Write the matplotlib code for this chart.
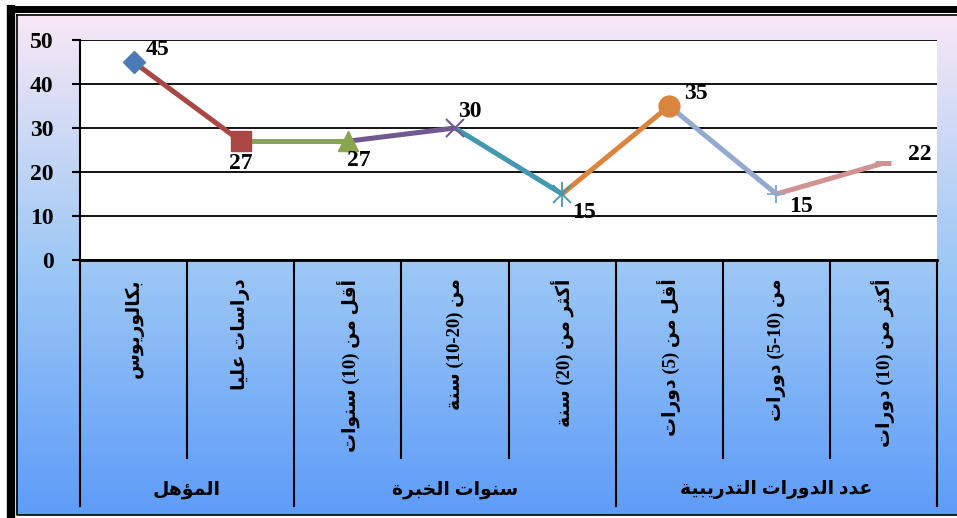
import re
import numpy as np
import matplotlib
matplotlib.use('Agg')
import matplotlib.pyplot as plt
import matplotlib.colors as mcl

# data
categories = ['بكالوريوس', 'دراسات عليا',
              'أقل من (10) سنوات', 'من (10-20) سنة', 'أكثر من (20) سنة',
              'أقل من (5) دورات', 'من (5-10) دورات', 'أكثر من (10) دورات']
values = [45, 27, 27, 30, 15, 35, 15, 22]
groups = ['المؤهل', 'سنوات الخبرة', 'عدد الدورات التدريبية']
group_sizes = [2, 3, 3]
yticks = [0, 10, 20, 30, 40, 50]

colors = ['#4A7BB7', '#AA4643', '#89A54E', '#71588F', '#4198AF',
          '#DB843D', '#93A9CF', '#D19392']
markers = ['D', 's', '^', 'x', 'star', 'o', '+', '_']
label_offsets = [(17, 9), (0, -16), (8, -14), (11, 12), (16, -13),
                 (19, 9), (18, -9), (26, 6)]

# --- minimal arabic shaping (presentation forms) + bidi reorder ---
DUAL = {'ب': 0xFE8F, 'ت': 0xFE95, 'ث': 0xFE99, 'ج': 0xFE9D, 'ح': 0xFEA1,
        'خ': 0xFEA5, 'س': 0xFEB1, 'ش': 0xFEB5, 'ص': 0xFEB9, 'ض': 0xFEBD,
        'ط': 0xFEC1, 'ظ': 0xFEC5, 'ع': 0xFEC9, 'غ': 0xFECD, 'ف': 0xFED1,
        'ق': 0xFED5, 'ك': 0xFED9, 'ل': 0xFEDD, 'م': 0xFEE1, 'ن': 0xFEE5,
        'ه': 0xFEE9, 'ي': 0xFEF1, 'ئ': 0xFE89}
RIGHT = {'ا': 0xFE8D, 'أ': 0xFE83, 'إ': 0xFE87, 'آ': 0xFE81, 'د': 0xFEA9,
         'ذ': 0xFEAB, 'ر': 0xFEAD, 'ز': 0xFEAF, 'و': 0xFEED, 'ؤ': 0xFE85,
         'ة': 0xFE93, 'ى': 0xFEEF}


def shape(s):
    out = []
    for i, c in enumerate(s):
        if c not in DUAL and c not in RIGHT:
            out.append(c)
            continue
        prev = s[i-1] if i > 0 else ''
        nxt = s[i+1] if i + 1 < len(s) else ''
        jp = prev in DUAL
        jn = c in DUAL and (nxt in DUAL or nxt in RIGHT)
        base = DUAL.get(c, RIGHT.get(c))
        out.append(chr(base + (1 if jp else 0) + (2 if jn else 0)))
    return ''.join(out)


def ar(s):
    parts = re.findall(r'[0-9]+(?:-[0-9]+)*|[^0-9]+', shape(s))
    out = []
    for p in reversed(parts):
        if p[0].isdigit():
            out.append(p)
        else:
            out.append(p[::-1].translate(str.maketrans('()', ')(')))
    return ''.join(out)


serif = 'Liberation Serif'
arfont = [serif, 'DejaVu Sans']

W, H = 957, 518
fig = plt.figure(figsize=(W/100, H/100), dpi=100)

# background frame (pixel coordinates)
bg = fig.add_axes([0, 0, 1, 1])
bg.set_xlim(0, W)
bg.set_ylim(H, 0)
bg.axis('off')
grad = mcl.LinearSegmentedColormap.from_list(
    'g', [(0, '#F8E8F6'), (0.5, '#9DC8F5'), (1, '#5E9CF8')])
bg.imshow(np.linspace(0, 1, 256)[:, None], cmap=grad, aspect='auto',
          extent=(16, W + 10, 515, 14), zorder=0)
bg.plot([7, W + 10], [8.5, 8.5], color='black', lw=5, solid_capstyle='butt')
bg.plot([11, 11], [5, H + 5], color='black', lw=6, solid_capstyle='butt')
bg.plot([17, W + 10, W + 10, 17, 17], [15, 15, 515, 515, 15], color='black', lw=1.2)

# plot area
ax = fig.add_axes([80/W, 1 - 260/H, (937 - 80)/W, 220/H])
ax.set_facecolor('white')
x = np.arange(len(values))
ax.set_xlim(-0.5, len(values) - 0.5)
ax.set_ylim(0, 50)
ax.set_yticks(yticks)
ax.set_yticklabels([str(t) for t in yticks], fontfamily=serif,
                   fontweight='bold', fontsize=17)
ax.tick_params(axis='y', direction='out', length=6, width=1.5, pad=13)
ax.tick_params(axis='x', length=0, labelbottom=False)
ax.grid(axis='y', color='black', lw=1.3)
ax.set_axisbelow(True)
for s in ['top', 'right']:
    ax.spines[s].set_visible(False)
ax.spines['left'].set_linewidth(1.5)
ax.spines['bottom'].set_linewidth(2)

# segments, each coloured like its end point
for i in range(1, len(values)):
    ax.plot(x[i-1:i+1], values[i-1:i+1], color=colors[i], lw=3.6,
            solid_capstyle='butt', zorder=3)

for i, (xi, v) in enumerate(zip(x, values)):
    m = markers[i]
    if m == 'star':
        ax.plot(xi, v, marker='x', ms=13, mew=1.3, color=colors[i], zorder=4)
        ax.plot(xi, v, marker='|', ms=18, mew=1.3, color=colors[i], zorder=4)
    elif m in ('x', '+'):
        ax.plot(xi, v, marker=m, ms=13, mew=1.5, color=colors[i], zorder=4)
    elif m == '_':
        ax.plot(xi, v, marker=m, ms=12, mew=3.6, color=colors[i], zorder=4)
    elif m == 'D':
        ax.plot(xi, v, marker=m, ms=11, color=colors[i], mec=colors[i], zorder=4)
    else:
        ax.plot(xi, v, marker=m, ms=15, color=colors[i], mec=colors[i], zorder=4)
    ax.annotate(str(v), (xi, v), xytext=label_offsets[i], textcoords='offset points',
                ha='center', va='center', fontfamily=serif, fontweight='bold',
                fontsize=17, zorder=5)

# multi-level category axis
tr = ax.get_xaxis_transform()
for k in range(len(values) + 1):
    ax.plot([k - 0.5, k - 0.5], [0, -0.9], transform=tr, color='black',
            lw=1.5, clip_on=False)
for i, c in enumerate(categories):
    ax.text(i, -0.085, ar(c), transform=tr, rotation=90, ha='center', va='top',
            fontfamily=arfont, fontweight='bold', fontsize=13.5)
start = 0
bounds = [0]
for g, n in zip(groups, group_sizes):
    ax.text(start + (n - 1)/2, -1.045, ar(g), transform=tr, ha='center',
            va='center', fontfamily=arfont, fontweight='bold', fontsize=13.5)
    start += n
    bounds.append(start)
for b in bounds:
    ax.plot([b - 0.5, b - 0.5], [-0.9, -1.12], transform=tr, color='black',
            lw=1.5, clip_on=False)

fig.savefig('out.png', dpi=100)
